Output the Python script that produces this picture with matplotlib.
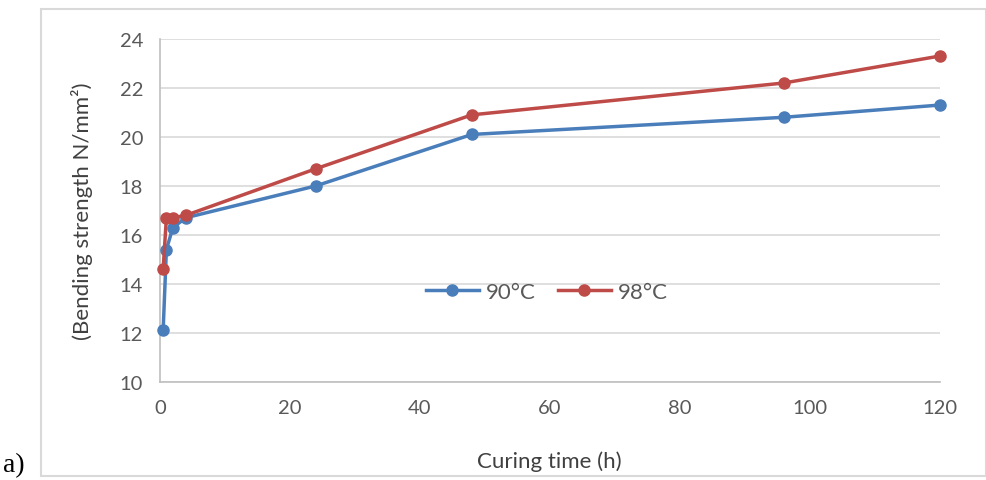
import matplotlib
matplotlib.use("Agg")
import matplotlib.pyplot as plt
from matplotlib.patches import Rectangle

plt.rcParams['font.family'] = ['Lato', 'DejaVu Sans']

hours = [0.5, 1, 2, 4, 24, 48, 96, 120]
s90 = [12.1, 15.4, 16.3, 16.7, 18.0, 20.1, 20.8, 21.3]
s98 = [14.6, 16.7, 16.7, 16.8, 18.7, 20.9, 22.2, 23.3]

fig = plt.figure(figsize=(9.87, 4.81), dpi=100)
ax = fig.add_axes([0.162, 0.204, 0.790, 0.713])

ax.plot(hours, s90, color='#4a7ebb', lw=2.5, marker='o', ms=8, label='90°C',
        zorder=3, clip_on=False)
ax.plot(hours, s98, color='#be4b48', lw=2.5, marker='o', ms=8, label='98°C',
        zorder=4, clip_on=False)

ax.set_xlim(0, 120)
ax.set_ylim(10, 24)
ax.set_xticks(range(0, 121, 20))
ax.set_yticks(range(10, 25, 2))
ax.grid(axis='y', color='#d9d9d9', lw=1.2)
ax.set_axisbelow(True)
for s in ['top', 'right']:
    ax.spines[s].set_visible(False)
ax.spines['left'].set_color('#bfbfbf')
ax.spines['bottom'].set_color('#bfbfbf')
ax.spines['left'].set_linewidth(1.2)
ax.spines['bottom'].set_linewidth(1.2)
ax.tick_params(length=0, labelsize=14.5, labelcolor='#595959')
ax.tick_params(axis='x', pad=12)
ax.tick_params(axis='y', pad=12)

ax.set_xlabel('Curing time (h)', fontsize=16, color='#404040', labelpad=25)
ax.set_ylabel('(Bending strength N/mm²)', fontsize=16, color='#404040', labelpad=19)

ax.legend(loc='center', bbox_to_anchor=(0.496, 0.262), ncol=2, frameon=False,
          fontsize=16, labelcolor='#595959', handlelength=2.4, columnspacing=1.0,
          handletextpad=0.3)

fig.patches.append(Rectangle((41 / 987, 1 - 477 / 481), 945 / 987, 467 / 481,
                             transform=fig.transFigure, fill=False,
                             edgecolor='#d9d9d9', lw=1.5))
fig.text(3 / 987, 1 - 466 / 481, 'a)', family='Liberation Serif', fontsize=20,
         va='center', ha='left', color='black')

fig.savefig('out.png', dpi=100)
